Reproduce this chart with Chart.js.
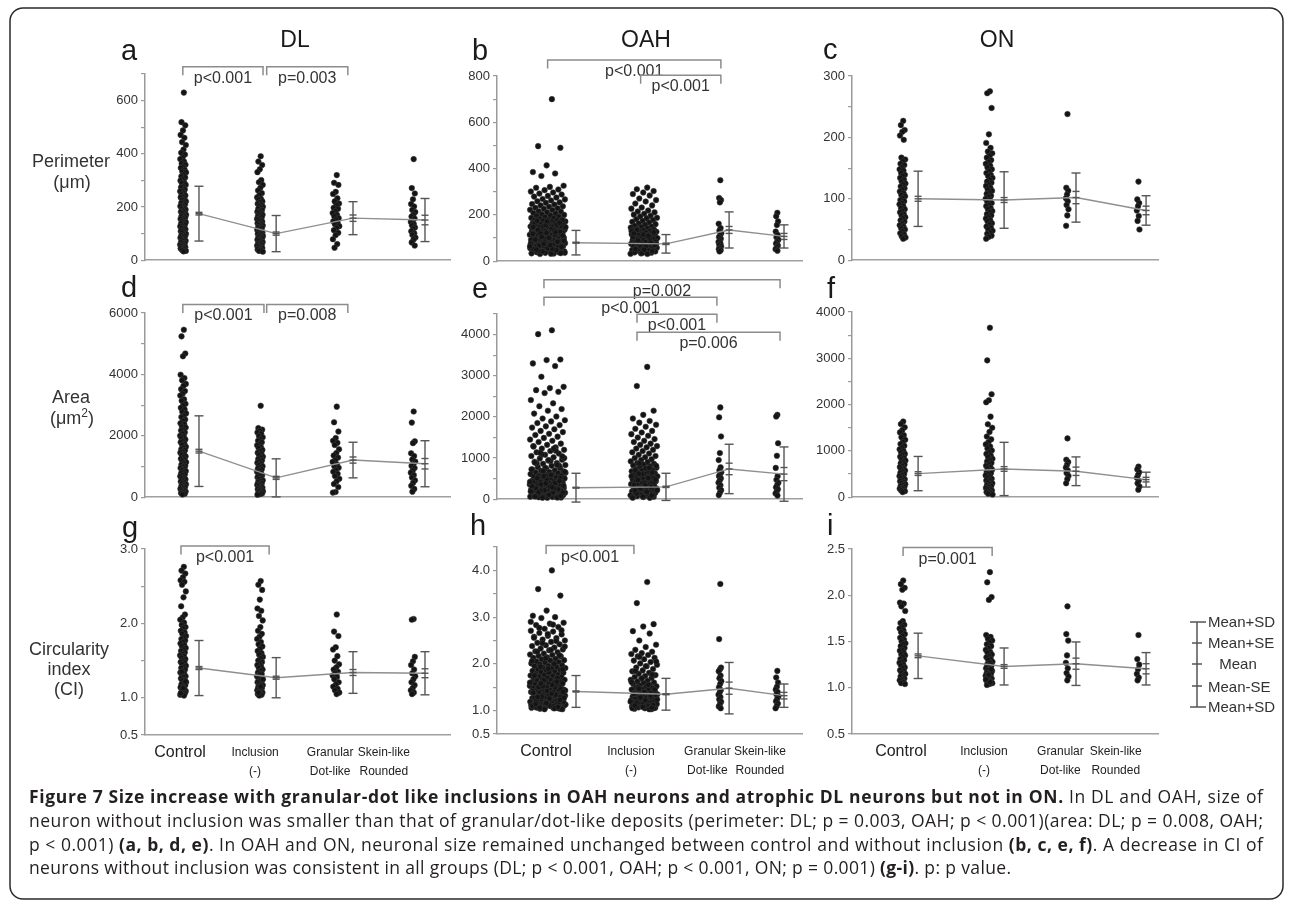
<!DOCTYPE html>
<html>
<head>
<meta charset="utf-8">
<title>Figure 7</title>
<script src="https://cdn.jsdelivr.net/npm/chart.js@4.4.1/dist/chart.umd.min.js"></script>
<style>
  html, body { margin: 0; padding: 0; background: #fff; }
  #page { position: relative; width: 1290px; height: 903px; overflow: hidden; }
  #page canvas { position: absolute; z-index: 1; }
  #overlay { position: absolute; left: 0; top: 0; z-index: 2; pointer-events: none; }
</style>
</head>
<body>
<div id="page">
<svg id="overlay" width="1290" height="903" xmlns="http://www.w3.org/2000/svg">
  <rect x="10" y="8" width="1273" height="891" rx="13" fill="none" stroke="#2a2a2a" stroke-width="1.5"/>
  <g font-family="'Liberation Sans', Arial, sans-serif" fill="#1a1a1a" font-size="29">
    <text x="121" y="60">a</text>
    <text x="472" y="60">b</text>
    <text x="823" y="59">c</text>
    <text x="121" y="297">d</text>
    <text x="472" y="298">e</text>
    <text x="827" y="298">f</text>
    <text x="122" y="537">g</text>
    <text x="470" y="535">h</text>
    <text x="827" y="535">i</text>
  </g>
  <g font-family="'Liberation Sans', Arial, sans-serif" fill="#1a1a1a" font-size="23" text-anchor="middle">
    <text x="295" y="47">DL</text>
    <text x="646" y="47">OAH</text>
    <text x="997" y="47">ON</text>
  </g>
  <g font-family="'Liberation Sans', Arial, sans-serif" fill="#333" font-size="18" text-anchor="middle">
    <text x="71" y="167">Perimeter</text>
    <text x="72" y="188">(μm)</text>
    <text x="71" y="403">Area</text>
    <text x="72" y="424">(μm<tspan font-size="12" dy="-7">2</tspan><tspan dy="7">)</tspan></text>
    <text x="69" y="655">Circularity</text>
    <text x="69" y="675">index</text>
    <text x="69" y="695">(CI)</text>
  </g>
  <g stroke="#555" stroke-width="1.5">
    <line x1="1197" y1="622" x2="1197" y2="707"/>
    <line x1="1190" y1="622" x2="1206" y2="622"/>
    <line x1="1190" y1="707" x2="1206" y2="707"/>
    <line x1="1192" y1="643" x2="1202" y2="643"/>
    <line x1="1192" y1="664" x2="1202" y2="664"/>
    <line x1="1192" y1="686" x2="1202" y2="686"/>
  </g>
  <g font-family="'Liberation Sans', Arial, sans-serif" fill="#333" font-size="15">
    <text x="1208" y="627">Mean+SD</text>
    <text x="1208" y="648">Mean+SE</text>
    <text x="1238" y="669" text-anchor="middle">Mean</text>
    <text x="1208" y="692">Mean-SE</text>
    <text x="1208" y="712">Mean+SD</text>
  </g>
  <g font-family="'Open Sans', sans-serif" fill="#231f20" font-size="17.5">
    <text x="29" y="803" textLength="1234" lengthAdjust="spacing"><tspan font-weight="bold">Figure 7 Size increase with granular-dot like inclusions in OAH neurons and atrophic DL neurons but not in ON.</tspan> In DL and OAH, size of</text>
    <text x="29" y="827" textLength="1234" lengthAdjust="spacing">neuron without inclusion was smaller than that of granular/dot-like deposits (perimeter: DL; p = 0.003, OAH; p &lt; 0.001)(area: DL; p = 0.008, OAH;</text>
    <text x="29" y="851" textLength="1234" lengthAdjust="spacing">p &lt; 0.001) <tspan font-weight="bold">(a, b, d, e)</tspan>. In OAH and ON, neuronal size remained unchanged between control and without inclusion <tspan font-weight="bold">(b, c, e, f)</tspan>. A decrease in CI of</text>
    <text x="29" y="874" textLength="982" lengthAdjust="spacing">neurons without inclusion was consistent in all groups (DL; p &lt; 0.001, OAH; p &lt; 0.001, ON; p = 0.001) <tspan font-weight="bold">(g-i)</tspan>. p: p value.</text>
  </g>
</svg>
</div>
<script>
// groups along every x axis
const groupNames = [['Control'], ['Inclusion', '(-)'], ['Granular', 'Dot-like'], ['Skein-like', 'Rounded']];

// ---- perimeter (um), one list per group: Control, Inclusion(-), Granular/Dot-like, Skein-like/Rounded
const perimDL = [
  [630, 519, 507, 488, 471, 460, 444, 433, 416, 404, 397, 386, 380, 371, 364, 359, 351, 347, 340, 333, 330, 322, 315, 311, 303, 299, 292, 289, 283, 276, 274, 266, 261, 259, 252, 247, 243, 238, 236, 229, 226, 221, 217, 215, 209, 204, 203, 197, 193, 190, 186, 182, 179, 176, 171, 168, 165, 160, 157, 155, 150, 147, 143, 140, 138, 133, 129, 127, 122, 120, 116, 113, 109, 106, 104, 99, 96, 93, 90, 86, 84, 80, 77, 73, 71, 68, 64, 62, 58, 55, 53, 49, 46, 44, 40, 38, 35, 33],
  [391, 371, 358, 342, 331, 301, 293, 283, 272, 262, 252, 245, 236, 231, 227, 221, 218, 212, 209, 204, 201, 196, 193, 189, 185, 182, 178, 176, 171, 168, 165, 161, 158, 155, 151, 149, 145, 142, 139, 136, 132, 130, 126, 123, 121, 117, 114, 111, 108, 105, 102, 99, 97, 93, 91, 88, 85, 82, 79, 77, 73, 71, 68, 65, 62, 59, 57, 54, 51, 48, 46, 43, 40, 38, 35, 32],
  [320, 291, 283, 257, 249, 233, 221, 213, 206, 197, 193, 184, 177, 171, 164, 158, 153, 146, 141, 135, 128, 122, 113, 103, 94, 79, 61, 47],
  [380, 271, 251, 229, 211, 202, 189, 181, 171, 164, 157, 148, 144, 136, 131, 123, 118, 109, 101, 95, 85, 78, 67, 55]
];
const perimOAH = [
  [700, 497, 490, 414, 385, 379, 368, 326, 321, 317, 310, 307, 301, 297, 292, 288, 282, 279, 275, 269, 267, 262, 259, 254, 252, 247, 245, 241, 237, 235, 231, 229, 226, 222, 221, 216, 214, 211, 208, 206, 203, 200, 198, 196, 192, 191, 187, 186, 183, 181,
   179, 178, 176, 174, 172, 171, 169, 167, 165, 164, 162, 160, 159, 157, 155, 153, 152, 150, 149, 146, 145, 143, 141, 140, 138, 136, 134, 133, 131, 129, 128, 126, 124, 123, 121, 119, 117, 116, 114, 112, 111, 109, 107, 106, 104, 102, 100, 99, 97, 95, 94, 92, 90, 89, 87, 85, 83, 82, 80, 78, 77, 75, 73, 72, 70, 68, 66, 65, 63, 61, 60, 58, 56, 55, 53, 51, 49, 48, 46, 44, 43, 41, 39, 38, 36, 34, 33, 31,
   177, 170, 163, 158, 151, 147, 139, 135, 127, 122, 118, 113, 108, 103, 96, 91, 86, 81, 76, 71, 67, 62, 57, 52, 47, 42, 37, 32, 175, 166, 156, 144, 132, 120, 110, 101, 93, 84, 74, 64, 54, 45, 35, 172, 148, 125, 105, 88, 69, 50],
  [318, 311, 303, 297, 290, 284, 271, 264, 258, 249, 241, 232, 227, 219, 215, 211, 205, 201, 196, 193, 188, 185, 181, 178, 174, 170, 167, 163, 160, 157, 153, 150, 148, 145, 142, 139,
   137, 134, 133, 130, 128, 127, 124, 122, 121, 118, 116, 114, 113, 110, 108, 107, 104, 102, 100, 98, 97, 94, 92, 91, 88, 86, 84, 83, 80, 78, 76, 75, 72, 70, 68, 67, 64, 62, 61, 58, 56, 54, 52, 51, 48, 46, 45, 42, 40, 38, 37, 34, 32, 31,
   136, 125, 115, 105, 96, 85, 74, 63, 53, 43, 35, 130, 110, 90, 70, 50, 120, 80],
  [350, 273, 264, 254, 162, 143, 132, 121, 113, 104, 97, 89, 83, 77, 70, 64, 58, 52, 47, 42],
  [209, 194, 172, 156, 128, 114, 103, 93, 84, 76, 68, 60, 52, 45]
];
const perimON = [
  [227, 220, 212, 209, 203, 196, 167, 164, 161, 157, 155, 151, 148, 146, 142, 139, 137, 134, 131, 128, 125, 123, 120, 117, 115, 112, 109, 106, 104, 101, 98, 96, 93, 91, 88, 85, 83, 80, 78, 75, 73, 70, 68, 65, 63, 60, 57, 55, 52, 50, 47, 44, 42, 39, 37, 35],
  [275, 272, 248, 205, 191, 183, 177, 174, 170, 167, 163, 160, 157, 154, 151, 148, 145, 142, 139, 137, 134, 131, 128, 126, 123, 121, 118, 115, 113, 110, 108, 105, 103, 100, 98, 95, 93, 90, 88, 85, 83, 80, 78, 75, 73, 70, 68, 65, 63, 60, 58, 55, 53, 50, 48, 45, 43, 40, 38, 35],
  [238, 118, 113, 107, 101, 96, 90, 83, 73, 56],
  [128, 99, 93, 88, 81, 72, 64, 50]
];

// ---- area (um2)
const areaDL = [
  [5455, 5240, 4680, 4590, 3990, 3880, 3810, 3690, 3630, 3520, 3460, 3370, 3310, 3190, 3140, 3040, 2990, 2910, 2860, 2780, 2730, 2650, 2610, 2530, 2490, 2410, 2380, 2300, 2270, 2200, 2170, 2110, 2070, 2000, 1970, 1910, 1880, 1820, 1790, 1730, 1700, 1640, 1610, 1560, 1530, 1480, 1450, 1400, 1370, 1330, 1290, 1250, 1220, 1170, 1140, 1100, 1060, 1020, 990, 950, 920, 880, 850, 810, 780, 740, 710, 680, 640, 610, 580, 540, 510, 480, 450, 420, 390, 360, 330, 300, 270, 240, 210, 185, 160, 135, 110, 90],
  [2980, 2250, 2200, 2160, 2110, 2060, 1990, 1950, 1880, 1840, 1790, 1730, 1690, 1630, 1600, 1540, 1500, 1450, 1410, 1370, 1320, 1290, 1240, 1200, 1170, 1120, 1090, 1040, 1010, 970, 930, 900, 860, 830, 790, 760, 720, 690, 650, 620, 590, 550, 520, 490, 460, 430, 400, 370, 340, 310, 290, 260, 240, 210, 190, 160, 140, 120, 100, 80],
  [2950, 2440, 2140, 1930, 1840, 1770, 1700, 1560, 1440, 1360, 1290, 1210, 1150, 1070, 1010, 960, 890, 830, 760, 690, 600, 520, 430, 330, 170, 150],
  [2790, 2430, 1820, 1760, 1430, 1340, 1230, 1160, 1080, 1020, 950, 870, 800, 720, 640, 550, 470, 370, 270, 180]
];
const areaOAH = [
  [4105, 4010, 3395, 3380, 3300, 3235, 2975, 2730, 2700, 2650, 2610, 2580, 2410, 2330, 2260, 2190, 2150, 2080, 2010, 1960, 1920, 1890, 1850, 1800, 1770, 1740, 1700, 1660, 1630, 1590, 1560, 1520, 1490, 1450, 1420, 1390, 1350, 1320, 1290, 1260, 1230, 1200, 1170, 1140, 1110, 1080, 1050, 1020, 990, 960, 940, 910, 880, 860, 830, 810, 780, 760, 740, 720,
   700, 690, 675, 660, 650, 635, 620, 610, 595, 580, 570, 555, 545, 530, 520, 505, 495, 480, 470, 460, 445, 435, 420, 410, 400, 390, 375, 365, 355, 345, 335, 325, 315, 305, 295, 285, 275, 265, 255, 245, 235, 228, 218, 210, 200, 192, 183, 175, 167, 158, 150, 142, 135, 127, 120, 112, 105, 98, 90, 83, 76, 70, 62, 55, 48, 42, 35,
   1280, 1180, 1090, 1000, 930, 870, 815, 765, 725, 1230, 1130, 1040, 950, 890, 835,
   685, 640, 600, 560, 515, 475, 430, 395, 360, 330, 300, 270, 240, 214, 188, 162, 138, 116, 94, 72, 52, 38, 665, 590, 510, 440, 380, 320, 262, 205, 155, 108, 66, 40, 560, 420, 290, 170, 80],
  [3215, 2750, 2150, 2050, 1960, 1900, 1860, 1810, 1760, 1710, 1660, 1620, 1580, 1540, 1500, 1460, 1420, 1390, 1350, 1320, 1290, 1260, 1230, 1200, 1170, 1140, 1110, 1080, 1050, 1020, 1000, 970, 950, 920, 900,
   880, 860, 840, 820, 800, 780, 765, 745, 730, 710, 695, 680, 660, 645, 630, 615, 600, 585, 570, 555, 540, 525, 510, 495, 480, 465, 450, 436, 422, 408, 394, 380, 366, 352, 338, 324, 310, 296, 282, 268, 255, 242, 229, 216, 203, 190, 178, 166, 154, 142, 130, 118, 106, 95, 84, 73, 62, 52, 42, 33,
   870, 810, 750, 700, 650, 605, 560, 515, 470, 430, 390, 345, 300, 260, 220, 180, 140, 100, 65, 40, 760, 620, 480, 340, 210, 90],
  [2230, 1990, 1525, 1120, 950, 775, 700, 655, 610, 560, 505, 455, 400, 340, 280, 220, 160, 100],
  [2050, 2010, 1360, 1055, 760, 560, 470, 400, 345, 290, 240, 190, 140, 90]
];
const areaON = [
  [1635, 1580, 1510, 1450, 1400, 1340, 1295, 1240, 1190, 1150, 1110, 1070, 1035, 1000, 965, 935, 905, 875, 845, 815, 790, 760, 730, 705, 675, 650, 625, 600, 575, 550, 525, 500, 478, 455, 430, 410, 388, 365, 345, 325, 302, 282, 262, 242, 222, 203, 183, 165, 145, 128, 110],
  [3660, 2955, 2225, 2095, 2050, 1740, 1575, 1500, 1410, 1310, 1250, 1190, 1140, 1095, 1050, 1010, 970, 935, 900, 865, 830, 800, 770, 740, 710, 680, 650, 620, 595, 570, 545, 520, 495, 470, 445, 420, 400, 380, 360, 340, 320, 300, 280, 260, 240, 220, 200, 182, 164, 146, 128, 110, 92, 75, 58],
  [1270, 810, 760, 700, 640, 580, 520, 460, 390, 300],
  [660, 600, 540, 480, 420, 360, 300, 230, 160]
];

// ---- circularity index
const ciDL = [
  [2.76, 2.71, 2.67, 2.62, 2.58, 2.56, 2.52, 2.43, 2.35, 2.23, 2.12, 2.08, 2.05, 2.01, 1.98, 1.95, 1.93, 1.9, 1.88, 1.86, 1.83, 1.81, 1.79, 1.77, 1.75, 1.73, 1.71, 1.69, 1.67, 1.65, 1.63, 1.61, 1.59, 1.57, 1.56, 1.54, 1.52, 1.5, 1.48, 1.47, 1.45, 1.43, 1.41, 1.4, 1.38, 1.36, 1.34, 1.33, 1.31, 1.29, 1.28, 1.26, 1.24, 1.23, 1.21, 1.2, 1.18, 1.17, 1.15, 1.14, 1.12, 1.11, 1.09, 1.08, 1.07, 1.06, 1.05, 1.04, 1.03, 1.35, 1.22, 1.13, 1.06],
  [2.57, 2.52, 2.45, 2.32, 2.2, 2.17, 2.1, 2.04, 1.95, 1.9, 1.86, 1.82, 1.79, 1.75, 1.72, 1.69, 1.66, 1.63, 1.6, 1.58, 1.55, 1.53, 1.5, 1.48, 1.46, 1.44, 1.42, 1.4, 1.38, 1.36, 1.34, 1.32, 1.31, 1.29, 1.27, 1.26, 1.24, 1.23, 1.21, 1.2, 1.18, 1.17, 1.16, 1.14, 1.13, 1.12, 1.1, 1.09, 1.08, 1.07, 1.06, 1.05, 1.04, 1.03, 1.25, 1.15, 1.07],
  [2.12, 1.89, 1.83, 1.68, 1.65, 1.56, 1.5, 1.45, 1.41, 1.38, 1.35, 1.33, 1.3, 1.28, 1.25, 1.21, 1.18, 1.15, 1.12, 1.1, 1.07, 1.05],
  [2.06, 2.05, 1.55, 1.49, 1.44, 1.38, 1.33, 1.29, 1.25, 1.21, 1.17, 1.13, 1.1, 1.07, 1.05]
];
const ciOAH = [
  [4.0, 3.6, 3.46, 3.14, 3.03, 3.0, 2.98, 2.88, 2.86, 2.83, 2.79, 2.75, 2.71, 2.69, 2.66, 2.63, 2.6, 2.58, 2.55, 2.52, 2.5, 2.47, 2.45, 2.42, 2.4, 2.38, 2.35, 2.33, 2.31, 2.29, 2.27, 2.25,
   2.22, 2.2, 2.19, 2.17, 2.16, 2.14, 2.13, 2.11, 2.1, 2.08, 2.07, 2.05, 2.04, 2.03, 2.01, 2.0, 1.99, 1.97, 1.96, 1.95, 1.93, 1.92, 1.91, 1.9, 1.88, 1.87, 1.86, 1.85, 1.83, 1.82, 1.81, 1.8, 1.79, 1.77, 1.76, 1.75, 1.74, 1.73, 1.72, 1.7, 1.69, 1.68, 1.67, 1.66, 1.65, 1.64, 1.63, 1.62, 1.61, 1.6, 1.59, 1.58, 1.57, 1.56, 1.55, 1.54, 1.53, 1.52, 1.51, 1.5, 1.49, 1.48, 1.47, 1.46, 1.45, 1.44, 1.43, 1.42, 1.41, 1.4, 1.39, 1.38, 1.37, 1.36, 1.35, 1.34, 1.33, 1.32, 1.31, 1.3, 1.29, 1.28, 1.27, 1.26, 1.25, 1.24, 1.23, 1.22, 1.21, 1.2, 1.19, 1.18, 1.17, 1.16, 1.15, 1.14, 1.13, 1.12, 1.11, 1.1, 1.09, 1.08, 1.07, 1.06, 1.05, 1.04, 1.03,
   1.35, 1.28, 1.22, 1.17, 1.13, 1.09, 1.06, 1.04, 1.5, 1.42, 1.31, 1.25, 1.19, 1.11, 1.07, 1.05, 1.03,
   2.9, 2.84, 2.77, 2.72, 2.64, 2.56, 2.49, 2.44, 2.37, 2.3, 2.26,
   2.18, 2.12, 2.06, 2.0, 1.94, 1.88, 1.82, 1.76, 1.7, 1.65, 1.6, 1.55, 1.5, 1.46, 1.42, 1.38, 1.34, 1.3, 1.27, 1.24, 1.21, 1.18, 1.15, 1.12, 1.09, 1.06, 1.04, 1.9, 1.75, 1.62, 1.52, 1.43, 1.36, 1.29, 1.23, 1.16, 1.1, 1.05, 1.58, 1.4, 1.26, 1.14, 1.08],
  [3.75, 3.3, 2.85, 2.8, 2.7, 2.65, 2.5, 2.41, 2.36, 2.3, 2.26, 2.23, 2.21,
   2.19, 2.16, 2.13, 2.1, 2.07, 2.04, 2.01, 1.98, 1.95, 1.92, 1.89, 1.86, 1.84, 1.81, 1.79, 1.76, 1.74, 1.72, 1.7, 1.68, 1.66, 1.64, 1.62, 1.6, 1.59, 1.57, 1.55, 1.54, 1.52, 1.51, 1.49, 1.48, 1.46, 1.45, 1.44, 1.42, 1.41, 1.4, 1.38, 1.37, 1.36, 1.35, 1.34, 1.33, 1.32, 1.31, 1.3, 1.29, 1.28, 1.27, 1.26, 1.25, 1.24, 1.23, 1.22, 1.21, 1.2, 1.19, 1.18, 1.17, 1.16, 1.15, 1.14, 1.13, 1.12, 1.11, 1.1, 1.09, 1.08, 1.07, 1.06, 1.05, 1.04, 1.03, 1.26, 1.19, 1.13, 1.08, 1.05, 1.15, 1.1, 1.04,
   2.15, 2.05, 1.95, 1.85, 1.77, 1.69, 1.61, 1.55, 1.5, 1.45, 1.4, 1.36, 1.32, 1.28, 1.24, 1.2, 1.16, 1.12, 1.08, 1.05, 1.03, 1.47, 1.34, 1.22, 1.11, 1.06],
  [3.71, 2.53, 1.92, 1.88, 1.84, 1.75, 1.69, 1.63, 1.57, 1.5, 1.44, 1.39, 1.34, 1.29, 1.24, 1.19, 1.14, 1.09, 1.05],
  [1.85, 1.71, 1.6, 1.51, 1.45, 1.4, 1.35, 1.3, 1.25, 1.2, 1.15, 1.1, 1.05]
];
const ciON = [
  [2.16, 2.12, 2.08, 2.06, 1.92, 1.91, 1.88, 1.83, 1.72, 1.7, 1.68, 1.66, 1.64, 1.62, 1.6, 1.58, 1.56, 1.54, 1.52, 1.5, 1.48, 1.47, 1.45, 1.43, 1.41, 1.4, 1.38, 1.36, 1.35, 1.33, 1.31, 1.3, 1.28, 1.27, 1.25, 1.24, 1.22, 1.21, 1.19, 1.18, 1.16, 1.15, 1.13, 1.12, 1.1, 1.09, 1.08, 1.06, 1.05, 1.04],
  [2.25, 2.14, 1.98, 1.95, 1.57, 1.55, 1.53, 1.51, 1.49, 1.47, 1.45, 1.43, 1.41, 1.39, 1.38, 1.36, 1.34, 1.33, 1.31, 1.3, 1.28, 1.27, 1.25, 1.24, 1.23, 1.21, 1.2, 1.19, 1.18, 1.17, 1.16, 1.15, 1.14, 1.13, 1.12, 1.11, 1.1, 1.09, 1.08, 1.07, 1.06, 1.05, 1.04, 1.03, 1.2, 1.14, 1.09, 1.06],
  [1.88, 1.58, 1.51, 1.35, 1.27, 1.21, 1.16, 1.12, 1.08],
  [1.57, 1.31, 1.25, 1.2, 1.15, 1.11, 1.08]
];

// ---- summary statistics, rows DL / OAH / ON, columns = groups
const perimMean = [[175, 100, 158, 151], [80, 75, 135, 107], [100, 98, 102, 81]];
const perimSD   = [[103, 68, 62, 81], [53, 40, 78, 50], [45, 46, 40, 24]];
const perimSE   = [[5, 6, 12, 18], [2, 3, 15, 13], [4, 4, 10, 7]];
const areaMean  = [[1500, 630, 1210, 1090], [280, 300, 735, 610], [510, 610, 560, 380]];
const areaSD    = [[1150, 620, 580, 750], [350, 330, 600, 660], [370, 575, 310, 160]];
const areaSE    = [[60, 50, 100, 170], [10, 15, 140, 160], [40, 50, 90, 50]];
const ciMean    = [[1.40, 1.27, 1.34, 1.33], [1.41, 1.35, 1.48, 1.32], [1.345, 1.23, 1.26, 1.205]];
const ciSD      = [[0.37, 0.27, 0.28, 0.29], [0.34, 0.34, 0.55, 0.25], [0.245, 0.2, 0.235, 0.175]];
const ciSE      = [[0.02, 0.02, 0.04, 0.06], [0.01, 0.01, 0.13, 0.07], [0.02, 0.02, 0.06, 0.055]];

// ---- y tick labels (labelled / unlabelled marks)
const ticksPerim = [[0, 200, 400, 600], [0, 200, 400, 600, 800], [0, 100, 200, 300]];
const minorPerim = [[100, 300, 500, 700], [100, 300, 500, 700], [50, 150, 250]];
const ticksArea  = [[0, 2000, 4000, 6000], [0, 1000, 2000, 3000, 4000], [0, 1000, 2000, 3000, 4000]];
const minorArea  = [[1000, 3000, 5000], [500, 1500, 2500, 3500, 4500], [500, 1500, 2500, 3500]];
const ticksCI    = [[0.5, 1.0, 2.0, 3.0], [0.5, 1.0, 2.0, 3.0, 4.0], [0.5, 1.0, 1.5, 2.0, 2.5]];
const minorCI    = [[1.5, 2.5], [1.5, 2.5, 3.5, 4.5], []];

// ---- p value labels
const pA = ['p<0.001', 'p=0.003'];
const pB = ['p<0.001', 'p<0.001'];
const pD = ['p<0.001', 'p=0.008'];
const pE = ['p=0.002', 'p<0.001', 'p<0.001', 'p=0.006'];
const pG = ['p<0.001'];
const pH = ['p<0.001'];
const pI = ['p=0.001'];

// ---- layout (x in percent of plot width)
const COLS = [
  { left: 145, width: 305, bar: [17.7, 43.0, 68.2, 91.8], dot: [12.5, 37.7, 62.6, 87.9], spread: [2.0, 2.0, 2.3, 1.6], tickAt: [11.5, 36.1, 60.7, 78.3] },
  { left: 497, width: 305, bar: [25.9, 55.4, 76.1, 94.1], dot: [16.6, 48.2, 73.1, 91.8], spread: [11.8, 8.9, 1.0, 1.0], tickAt: [16.1, 43.9, 69.0, 86.2] },
  { left: 852, width: 306, bar: [21.6, 49.7, 73.2, 96.1], dot: [16.5, 44.8, 70.3, 93.5], spread: [2.0, 2.3, 1.0, 1.0], tickAt: [16.0, 43.1, 68.1, 86.2] }
];

const PANELS = [
  { col: 0, top: 74, bottom: 261, data: perimDL, mean: perimMean[0], sd: perimSD[0], se: perimSE[0], yMin: 0, yMax: 700, major: ticksPerim[0], minor: minorPerim[0], dec: 0,
    brackets: [{ x1: 12.4, x2: 38.7, y: 727, text: pA[0] }, { x1: 39.9, x2: 66.5, y: 727, text: pA[1] }] },
  { col: 1, top: 76, bottom: 262, data: perimOAH, mean: perimMean[1], sd: perimSD[1], se: perimSE[1], yMin: 0, yMax: 800, major: ticksPerim[1], minor: minorPerim[1], dec: 0,
    brackets: [{ x1: 16.6, x2: 73.4, y: 869, text: pB[0] }, { x1: 47.1, x2: 73.4, y: 803, text: pB[1] }] },
  { col: 2, top: 76, bottom: 261, data: perimON, mean: perimMean[2], sd: perimSD[2], se: perimSE[2], yMin: 0, yMax: 300, major: ticksPerim[2], minor: minorPerim[2], dec: 0, brackets: [] },
  { col: 0, top: 313, bottom: 498, data: areaDL, mean: areaMean[0], sd: areaSD[0], se: areaSE[0], yMin: 0, yMax: 6000, major: ticksArea[0], minor: minorArea[0], dec: 0,
    brackets: [{ x1: 12.4, x2: 39.0, y: 6276, text: pD[0] }, { x1: 39.9, x2: 66.5, y: 6276, text: pD[1] }] },
  { col: 1, top: 314, bottom: 500, data: areaOAH, mean: areaMean[1], sd: areaSD[1], se: areaSE[1], yMin: 0, yMax: 4500, major: ticksArea[1], minor: minorArea[1], dec: 0,
    brackets: [{ x1: 15.4, x2: 92.8, y: 5331, text: pE[0] }, { x1: 15.4, x2: 72.1, y: 4910, text: pE[1] },
               { x1: 45.9, x2: 72.1, y: 4492, text: pE[2] }, { x1: 45.9, x2: 92.8, y: 4056, text: pE[3] }] },
  { col: 2, top: 312, bottom: 498, data: areaON, mean: areaMean[2], sd: areaSD[2], se: areaSE[2], yMin: 0, yMax: 4000, major: ticksArea[2], minor: minorArea[2], dec: 0, brackets: [] },
  { col: 0, top: 549, bottom: 735, data: ciDL, mean: ciMean[0], sd: ciSD[0], se: ciSE[0], yMin: 0.5, yMax: 3.0, major: ticksCI[0], minor: minorCI[0], dec: 1, xLabels: true,
    brackets: [{ x1: 11.8, x2: 40.7, y: 3.04, text: pG[0] }] },
  { col: 1, top: 547, bottom: 734, data: ciOAH, mean: ciMean[1], sd: ciSD[1], se: ciSE[1], yMin: 0.5, yMax: 4.5, major: ticksCI[1], minor: minorCI[1], dec: 1, xLabels: true,
    brackets: [{ x1: 16.1, x2: 44.9, y: 4.53, text: pH[0] }] },
  { col: 2, top: 549, bottom: 734, data: ciON, mean: ciMean[2], sd: ciSD[2], se: ciSE[2], yMin: 0.5, yMax: 2.5, major: ticksCI[2], minor: minorCI[2], dec: 1, xLabels: true,
    brackets: [{ x1: 16.7, x2: 45.8, y: 2.515, text: pI[0] }] }
];

Chart.defaults.font.family = "'Liberation Sans', Arial, sans-serif";

// error bars (mean, +-SE, +-SD) and significance brackets
function annotations(p, col) {
  return {
    id: 'annot',
    afterDatasetsDraw(chart) {
      const { ctx, scales: { x, y } } = chart;
      const seg = (x1, y1, x2, y2) => { ctx.beginPath(); ctx.moveTo(x1, y1); ctx.lineTo(x2, y2); ctx.stroke(); };
      ctx.save();
      ctx.strokeStyle = '#555';
      ctx.lineWidth = 1.4;
      p.mean.forEach((m, g) => {
        const cx = x.getPixelForValue(col.bar[g]);
        const hi = y.getPixelForValue(m + p.sd[g]);
        const lo = y.getPixelForValue(m - p.sd[g]);
        seg(cx, hi, cx, lo);
        seg(cx - 4.5, hi, cx + 4.5, hi);
        seg(cx - 4.5, lo, cx + 4.5, lo);
        [m + p.se[g], m, m - p.se[g]].forEach(v => {
          const yy = y.getPixelForValue(v);
          seg(cx - 3.5, yy, cx + 3.5, yy);
        });
      });
      ctx.strokeStyle = '#8c8c8c';
      ctx.lineWidth = 1.5;
      ctx.fillStyle = '#333';
      ctx.font = "16px 'Liberation Sans', Arial, sans-serif";
      ctx.textAlign = 'center';
      ctx.textBaseline = 'middle';
      p.brackets.forEach(b => {
        const x1 = x.getPixelForValue(b.x1), x2 = x.getPixelForValue(b.x2), yy = y.getPixelForValue(b.y);
        ctx.beginPath();
        ctx.moveTo(x1, yy + 8.5); ctx.lineTo(x1, yy); ctx.lineTo(x2, yy); ctx.lineTo(x2, yy + 8.5);
        ctx.stroke();
        ctx.fillText(b.text, (x1 + x2) / 2, yy + 11.5);
      });
      ctx.restore();
    }
  };
}

const page = document.getElementById('page');

PANELS.forEach(p => {
  const col = COLS[p.col];
  const YW = 64, PT = 70, PR = 22, XH = p.xLabels ? 52 : 10;
  const cv = document.createElement('canvas');
  cv.width = YW + col.width + PR;
  cv.height = PT + (p.bottom - p.top) + XH;
  cv.style.left = (col.left - YW) + 'px';
  cv.style.top = (p.top - PT) + 'px';
  page.appendChild(cv);

  // jittered dots: horizontal offset only spreads the points, the value sits on y
  const dots = [];
  p.data.forEach((vals, g) => vals.forEach((v, k) => {
    const u = ((k + 1) * 0.6180339887) % 1 - 0.5;
    dots.push({ x: col.dot[g] + u * col.spread[g], y: v });
  }));
  const means = p.mean.map((m, g) => ({ x: col.bar[g], y: m }));
  const yTicks = p.major.concat(p.minor).sort((a, b) => a - b);

  new Chart(cv, {
    type: 'scatter',
    data: {
      datasets: [
        { data: means, showLine: true, borderColor: '#8f8f8f', borderWidth: 1.4, pointRadius: 0, order: 1, clip: false },
        { data: dots, pointRadius: 2.8, backgroundColor: '#141414', borderColor: 'rgba(60,60,60,0.9)', borderWidth: 0.6, order: 2, clip: false }
      ]
    },
    options: {
      responsive: false,
      animation: false,
      devicePixelRatio: 1,
      events: [],
      layout: { padding: { top: PT, right: PR, left: 0, bottom: 0 } },
      plugins: { legend: { display: false }, tooltip: { enabled: false } },
      scales: {
        x: {
          type: 'linear', min: 0, max: 100,
          afterFit: s => { s.height = XH; },
          afterBuildTicks: s => { s.ticks = col.tickAt.map(v => ({ value: v })); },
          grid: { display: false, drawTicks: false },
          border: { display: true, color: '#a0a0a0', width: 1.5 },
          ticks: {
            display: !!p.xLabels, autoSkip: false, maxRotation: 0, minRotation: 0, padding: 8, color: '#222',
            callback: (v, i) => groupNames[i],
            font: c => c.index === 0 ? { size: 16 } : { size: 12, lineHeight: 1.6 }
          }
        },
        y: {
          type: 'linear', min: p.yMin, max: p.yMax,
          afterFit: s => { s.width = YW; },
          afterBuildTicks: s => { s.ticks = yTicks.map(v => ({ value: v })); },
          grid: { drawOnChartArea: false, drawTicks: true, tickLength: 4, color: '#9a9a9a', lineWidth: 1.2 },
          border: { color: '#9a9a9a', width: 1.5 },
          ticks: {
            autoSkip: false, padding: 3, color: '#333', font: { size: 13 },
            callback: v => p.major.includes(v) ? v.toFixed(p.dec) : ''
          }
        }
      }
    },
    plugins: [annotations(p, col)]
  });
});
</script>
</body>
</html>
